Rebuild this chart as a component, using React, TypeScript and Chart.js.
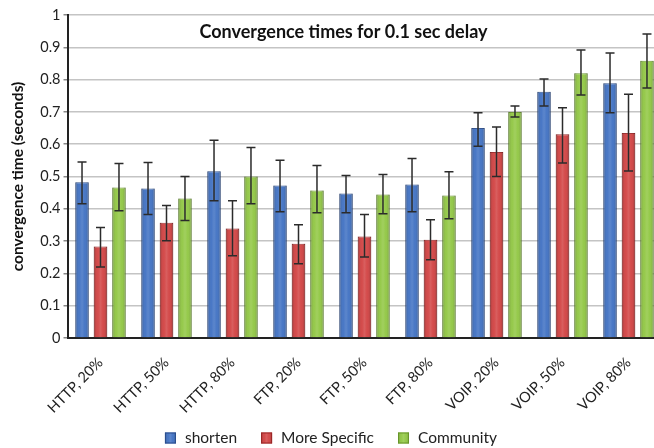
import React, { useEffect, useRef } from "react";
import { Chart, registerables } from "chart.js";

Chart.register(...registerables);

const categories = ["HTTP, 20%", "HTTP, 50%", "HTTP, 80%", "FTP, 20%", "FTP, 50%", "FTP, 80%", "VOIP, 20%", "VOIP, 50%", "VOIP, 80%"];
const seriesNames = ["shorten", "More Specific", "Community"];

const shorten = [0.482, 0.463, 0.516, 0.472, 0.447, 0.475, 0.65, 0.762, 0.789];
const shortenLow = [0.416, 0.382, 0.425, 0.391, 0.388, 0.391, 0.594, 0.718, 0.697];
const shortenHigh = [0.545, 0.543, 0.612, 0.55, 0.503, 0.556, 0.697, 0.802, 0.882];

const moreSpecific = [0.283, 0.357, 0.339, 0.292, 0.314, 0.304, 0.576, 0.631, 0.635];
const moreSpecificLow = [0.22, 0.301, 0.255, 0.23, 0.251, 0.242, 0.5, 0.542, 0.517];
const moreSpecificHigh = [0.342, 0.41, 0.425, 0.351, 0.382, 0.366, 0.653, 0.713, 0.755];

const community = [0.466, 0.432, 0.5, 0.457, 0.444, 0.441, 0.7, 0.82, 0.858];
const communityLow = [0.394, 0.364, 0.416, 0.388, 0.385, 0.369, 0.684, 0.752, 0.774];
const communityHigh = [0.54, 0.5, 0.59, 0.534, 0.506, 0.515, 0.718, 0.892, 0.941];

const chartTitle = "Convergence times for 0.1 sec delay";
const yAxisTitle = "convergence time (seconds)";

const FONT = "Lato, 'Open Sans', sans-serif";

const errorLows = [shortenLow, moreSpecificLow, communityLow];
const errorHighs = [shortenHigh, moreSpecificHigh, communityHigh];

function barGradient(ctx: CanvasRenderingContext2D, x0: number, x1: number) {
  const g = ctx.createLinearGradient(x0, 0, x1, 0);
  g.addColorStop(0, "rgba(0,0,0,0.22)");
  g.addColorStop(0.3, "rgba(255,255,255,0.06)");
  g.addColorStop(0.5, "rgba(255,255,255,0.16)");
  g.addColorStop(0.7, "rgba(255,255,255,0.06)");
  g.addColorStop(1, "rgba(0,0,0,0.22)");
  return g;
}

const barLookPlugin = {
  id: "barLook",
  afterDatasetsDraw(chart: any) {
    const ctx = chart.ctx;
    const yScale = chart.scales.y;
    ctx.save();
    chart.data.datasets.forEach((_: any, di: number) => {
      const meta = chart.getDatasetMeta(di);
      meta.data.forEach((el: any) => {
        const x0 = el.x - el.width / 2;
        const x1 = el.x + el.width / 2;
        ctx.fillStyle = barGradient(ctx, x0, x1);
        ctx.fillRect(x0, el.y, x1 - x0, el.base - el.y);
      });
    });
    ctx.strokeStyle = "#2b2b2b";
    ctx.lineWidth = 1.5;
    chart.data.datasets.forEach((_: any, di: number) => {
      const meta = chart.getDatasetMeta(di);
      meta.data.forEach((el: any, i: number) => {
        const lo = yScale.getPixelForValue(errorLows[di][i]);
        const hi = yScale.getPixelForValue(errorHighs[di][i]);
        const cap = 4.5;
        ctx.beginPath();
        ctx.moveTo(el.x, lo);
        ctx.lineTo(el.x, hi);
        ctx.moveTo(el.x - cap, hi);
        ctx.lineTo(el.x + cap, hi);
        ctx.moveTo(el.x - cap, lo);
        ctx.lineTo(el.x + cap, lo);
        ctx.stroke();
      });
    });
    ctx.restore();
  },
};

const innerTitlePlugin = {
  id: "innerTitle",
  afterDraw(chart: any) {
    const ctx = chart.ctx;
    ctx.save();
    ctx.font = `bold 18px ${FONT}`;
    ctx.fillStyle = "#111";
    ctx.textAlign = "center";
    ctx.textBaseline = "middle";
    ctx.fillText(chartTitle, 343.5, chart.chartArea.top + 17);
    ctx.restore();
  },
};

const bottomLegendPlugin = {
  id: "bottomLegend",
  afterDraw(chart: any) {
    const ctx = chart.ctx;
    ctx.save();
    ctx.font = `15.5px ${FONT}`;
    ctx.textBaseline = "middle";
    ctx.textAlign = "left";
    const box = 11;
    const boxGap = 9;
    const itemGap = 24;
    const ds = chart.data.datasets;
    const widths = ds.map((d: any) => box + boxGap + ctx.measureText(d.label).width);
    const total = widths.reduce((a: number, b: number) => a + b, 0) + itemGap * (ds.length - 1);
    let x = 331 - total / 2;
    const cy = 438;
    ds.forEach((d: any, i: number) => {
      ctx.fillStyle = d.backgroundColor;
      ctx.fillRect(x, cy - box / 2, box, box);
      ctx.fillStyle = barGradient(ctx, x, x + box);
      ctx.fillRect(x, cy - box / 2, box, box);
      ctx.strokeStyle = d.borderColor;
      ctx.lineWidth = 1;
      ctx.strokeRect(x + 0.5, cy - box / 2 + 0.5, box - 1, box - 1);
      ctx.fillStyle = "#222";
      ctx.fillText(d.label, x + box + boxGap, cy);
      x += widths[i] + itemGap;
    });
    ctx.restore();
  },
};

export default function App() {
  const ref = useRef<HTMLCanvasElement | null>(null);
  useEffect(() => {
    if (!ref.current) return;
    const chart = new Chart(ref.current, {
      type: "bar",
      data: {
        labels: categories,
        datasets: [
          { label: seriesNames[0], data: shorten, backgroundColor: "#3d6fc2", borderColor: "#2a4d8c", borderWidth: 1 },
          { label: seriesNames[1], data: moreSpecific, backgroundColor: "#d13f3f", borderColor: "#9a2626", borderWidth: 1 },
          { label: seriesNames[2], data: community, backgroundColor: "#8fc640", borderColor: "#68952b", borderWidth: 1 },
        ],
      },
      options: {
        responsive: false,
        animation: false,
        layout: { padding: { left: 0, right: 10.5, top: 15, bottom: 0 } },
        datasets: { bar: { categoryPercentage: 0.84, barPercentage: 0.73 } },
        plugins: {
          legend: { display: false },
          title: { display: false },
          tooltip: { enabled: false },
        },
        scales: {
          x: {
            grid: { display: false },
            border: { display: true, color: "#222", width: 2 },
            ticks: {
              minRotation: 45,
              maxRotation: 45,
              padding: 8,
              labelOffset: 0,
              color: "#222",
              font: { family: FONT, size: 14.5 },
            },
            afterFit: (s: any) => {
              s.height = 110;
            },
          },
          y: {
            min: 0,
            max: 1,
            ticks: {
              stepSize: 0.1,
              padding: 3,
              color: "#222",
              font: { family: FONT, size: 14.5 },
              callback: (v: any) => String(Math.round(Number(v) * 10) / 10),
            },
            grid: { color: "#c4c4c4", lineWidth: 1.5, tickLength: 4, tickColor: "#888" },
            border: { display: true, color: "#222", width: 2 },
            title: {
              display: true,
              text: yAxisTitle,
              color: "#111",
              font: { family: FONT, size: 15.5, weight: "bold" },
              padding: { top: 9, bottom: 0 },
            },
            afterFit: (s: any) => {
              s.width = 67.5;
            },
          },
        },
      },
      plugins: [barLookPlugin, innerTitlePlugin, bottomLegendPlugin],
    });
    return () => chart.destroy();
  }, []);
  return (
    <div style={{ position: "absolute", left: 0, top: 0, width: 654, height: 448, overflow: "hidden", background: "#fff" }}>
      <canvas ref={ref} width={672} height={448} style={{ width: 672, height: 448, display: "block" }} />
    </div>
  );
}
